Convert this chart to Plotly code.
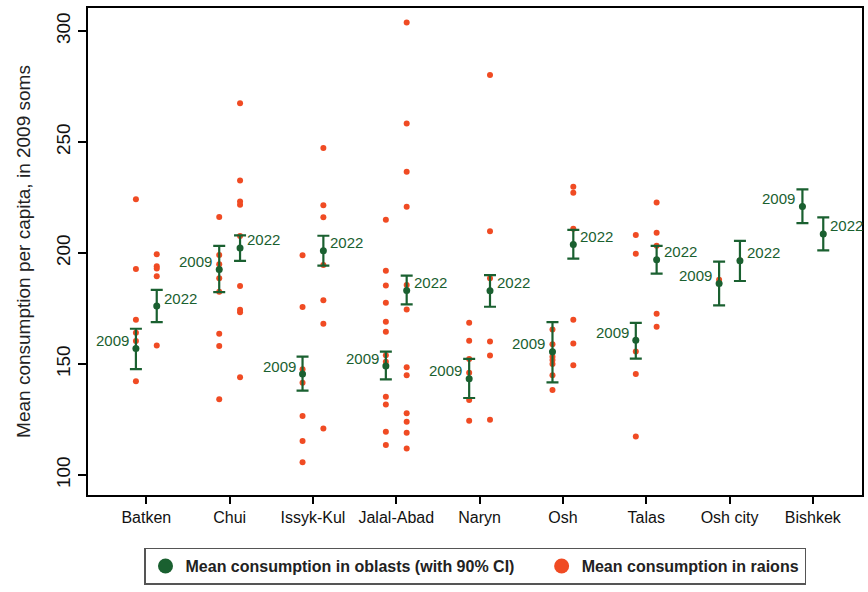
import plotly.graph_objects as go

regions = ["Batken", "Chui", "Issyk-Kul", "Jalal-Abad", "Naryn", "Osh", "Talas", "Osh city", "Bishkek"]

mean_2009 = [157.0, 192.6, 145.5, 149.1, 143.4, 155.5, 160.7, 186.3, 221.0]
lo_2009 = [147.7, 182.4, 138.0, 143.1, 134.7, 141.7, 152.4, 176.4, 213.5]
hi_2009 = [165.9, 203.2, 153.3, 155.6, 152.3, 168.9, 168.5, 196.1, 228.7]

mean_2022 = [176.1, 202.3, 201.0, 183.1, 183.0, 203.9, 197.0, 196.5, 208.6]
lo_2022 = [168.9, 196.5, 194.3, 176.9, 175.8, 197.5, 190.7, 187.4, 201.2]
hi_2022 = [183.4, 208.0, 207.8, 189.8, 190.1, 210.4, 203.2, 205.5, 216.1]

raions_2009 = [
    [224.2, 192.8, 170.0, 164.1, 160.4, 142.3],
    [216.2, 199.1, 195.0, 192.6, 188.6, 182.6, 163.6, 158.1, 134.1],
    [199.0, 175.7, 147.6, 141.6, 126.6, 115.3, 105.7],
    [215.0, 192.0, 185.4, 177.6, 169.0, 164.6, 154.0, 151.0, 135.3, 131.8, 119.5, 113.5],
    [168.6, 160.5, 152.3, 146.1, 133.8, 124.5],
    [165.6, 158.9, 153.3, 151.8, 150.0, 145.0, 138.3],
    [208.1, 199.7, 155.7, 145.5, 117.4],
    [188.0],
    [221.0],
]
raions_2022 = [
    [199.5, 194.0, 193.0, 189.5, 158.4],
    [267.5, 232.7, 223.2, 221.8, 207.7, 185.2, 174.5, 173.3, 144.1],
    [247.3, 221.5, 216.1, 194.6, 178.7, 168.2, 121.0],
    [303.9, 258.4, 236.6, 220.9, 185.6, 174.6, 148.5, 145.0, 127.8, 124.0, 119.1, 112.0],
    [280.2, 209.8, 188.6, 160.2, 153.9, 124.9],
    [229.9, 227.2, 211.0, 170.0, 159.3, 149.5],
    [222.8, 209.2, 203.3, 172.7, 166.8],
    [196.7],
    [208.6],
]

GREEN = "#1a6030"
ORANGE = "#f04b23"
OFF = 0.125
FONT = "Liberation Sans, Arial, Helvetica, sans-serif"

x09 = [i - OFF for i in range(len(regions))]
x22 = [i + OFF for i in range(len(regions))]

fig = go.Figure()

# raion dots
rx, ry = [], []
for i, vals in enumerate(raions_2009):
    rx += [x09[i]] * len(vals)
    ry += vals
for i, vals in enumerate(raions_2022):
    rx += [x22[i]] * len(vals)
    ry += vals
fig.add_trace(go.Scatter(x=rx, y=ry, mode="markers", showlegend=False,
                         marker=dict(color=ORANGE, size=6), hoverinfo="y"))

# oblast means with CI
for xs, m, lo, hi in [(x09, mean_2009, lo_2009, hi_2009), (x22, mean_2022, lo_2022, hi_2022)]:
    fig.add_trace(go.Scatter(
        x=xs, y=m, mode="markers", showlegend=False,
        marker=dict(color=GREEN, size=7),
        error_y=dict(type="data", symmetric=False,
                     array=[h - v for h, v in zip(hi, m)],
                     arrayminus=[v - l for l, v in zip(lo, m)],
                     color=GREEN, thickness=2.2, width=6),
    ))

# year labels
for i in range(len(regions)):
    fig.add_annotation(x=x09[i], y=mean_2009[i], text="2009", showarrow=False,
                       xanchor="right", xshift=-5, yshift=8,
                       font=dict(family=FONT, size=15, color=GREEN))
    fig.add_annotation(x=x22[i], y=mean_2022[i], text="2022", showarrow=False,
                       xanchor="left", xshift=5, yshift=8,
                       font=dict(family=FONT, size=15, color=GREEN))

# legend entries
fig.add_trace(go.Scatter(x=[None], y=[None], mode="markers", name="Mean consumption in oblasts (with 90% CI)     ",
                         marker=dict(color=GREEN, size=15)))
fig.add_trace(go.Scatter(x=[None], y=[None], mode="markers", name="Mean consumption in raions",
                         marker=dict(color=ORANGE, size=15)))

fig.update_layout(
    width=868, height=592,
    margin=dict(l=88, r=6, t=8, b=97, autoexpand=False),
    plot_bgcolor="white", paper_bgcolor="white",
    font=dict(family=FONT, size=16, color="#111"),
    showlegend=True,
    legend=dict(orientation="h", x=0.5, xanchor="center", y=-0.108, yanchor="top",
                bordercolor="#555", borderwidth=1.5,
                font=dict(family=FONT, size=16, color="#222", weight="bold"),
                itemwidth=30, traceorder="normal"),
)
fig.update_xaxes(
    range=[-0.7, 8.59], tickmode="array", tickvals=list(range(len(regions))), ticktext=regions,
    showline=True, linecolor="black", linewidth=2, mirror=True,
    ticks="outside", ticklen=7, tickwidth=1.5, tickcolor="black",
    showgrid=False, zeroline=False, tickfont=dict(size=16, color="#111"),
)
fig.update_yaxes(
    range=[91, 310.4], tickvals=[100, 150, 200, 250, 300], tickangle=-90,
    showline=True, linecolor="black", linewidth=2, mirror=True,
    ticks="outside", ticklen=8, tickwidth=1.5, tickcolor="black",
    showgrid=False, zeroline=False, tickfont=dict(size=19, color="#111"),
    title=dict(text="Mean consumption per capita, in 2009 soms", font=dict(size=19, color="#222"), standoff=18),
)

fig.write_html("out.html")
